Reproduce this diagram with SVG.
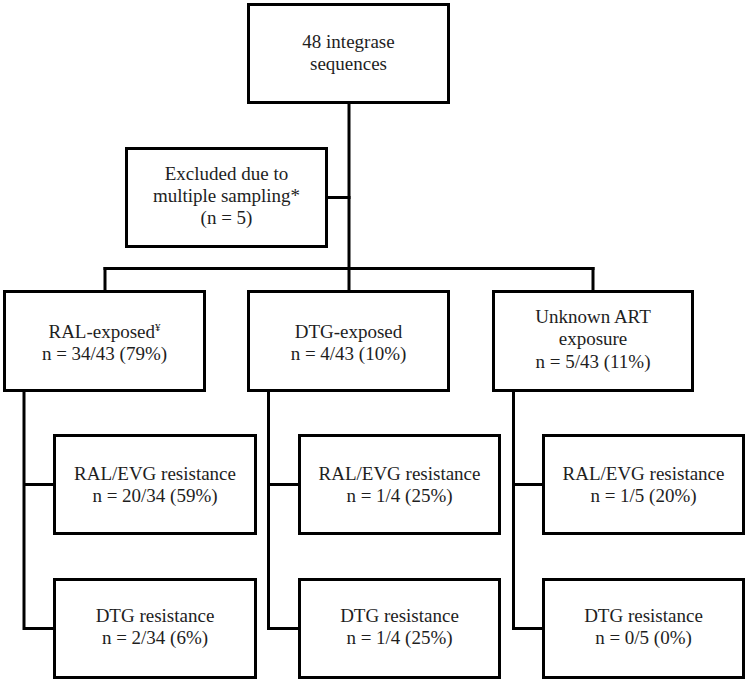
<svg xmlns="http://www.w3.org/2000/svg" width="748" height="681" viewBox="0 0 748 681">
<style>
.box{fill:#fff;stroke:#000;stroke-width:3}
.con{fill:none;stroke:#000;stroke-width:3;stroke-linecap:square}
text{font-family:"Liberation Serif","Times New Roman",serif;font-size:19px;fill:#1e1e1e;text-anchor:middle}
.sup{font-size:11px}
</style>
<rect width="748" height="681" fill="#fff"/>
<g id="connectors">
<path class="con" d="M349,104V290"/>
<path class="con" d="M328,197.5H349"/>
<path class="con" d="M105,268.5H593"/>
<path class="con" d="M105,268.5V290M593,268.5V290"/>
<path class="con" d="M24,392V628.5M24,484.5H53M24,628.5H53"/>
<path class="con" d="M268.5,392V628.5M268.5,484.5H298M268.5,628.5H298"/>
<path class="con" d="M513.5,392V628.5M513.5,484.5H542M513.5,628.5H542"/>
</g>
<g id="n-total">
<rect class="box" x="248.5" y="4.5" width="200" height="98"/>
<text x="348.5" y="48">48 integrase</text>
<text x="348.5" y="70">sequences</text>
</g>
<g id="n-excluded">
<rect class="box" x="126.5" y="148.5" width="200" height="98"/>
<text x="226.5" y="180">Excluded due to</text>
<text x="226.5" y="202">multiple sampling*</text>
<text x="226.5" y="224">(n = 5)</text>
</g>
<g id="n-ral">
<rect class="box" x="4.5" y="291.5" width="200" height="99"/>
<text x="104.5" y="338">RAL-exposed<tspan class="sup" dy="-7">¥</tspan></text>
<text x="104.5" y="360">n = 34/43 (79%)</text>
</g>
<g id="n-dtg">
<rect class="box" x="248.5" y="291.5" width="200" height="99"/>
<text x="348.5" y="338">DTG-exposed</text>
<text x="348.5" y="360">n = 4/43 (10%)</text>
</g>
<g id="n-unknown">
<rect class="box" x="493.5" y="291.5" width="199" height="99"/>
<text x="593" y="323">Unknown ART</text>
<text x="593" y="345">exposure</text>
<text x="593" y="368">n = 5/43 (11%)</text>
</g>
<g id="n-ral-evg1">
<rect class="box" x="54.5" y="435.5" width="201" height="98"/>
<text x="155" y="480">RAL/EVG resistance</text>
<text x="155" y="502">n = 20/34 (59%)</text>
</g>
<g id="n-ral-dtg1">
<rect class="box" x="54.5" y="579.5" width="201" height="98"/>
<text x="155" y="622">DTG resistance</text>
<text x="155" y="644">n = 2/34 (6%)</text>
</g>
<g id="n-ral-evg2">
<rect class="box" x="299.5" y="435.5" width="200" height="98"/>
<text x="399.5" y="480">RAL/EVG resistance</text>
<text x="399.5" y="502">n = 1/4 (25%)</text>
</g>
<g id="n-ral-dtg2">
<rect class="box" x="299.5" y="579.5" width="200" height="98"/>
<text x="399.5" y="622">DTG resistance</text>
<text x="399.5" y="644">n = 1/4 (25%)</text>
</g>
<g id="n-ral-evg3">
<rect class="box" x="543.5" y="435.5" width="200" height="98"/>
<text x="643.5" y="480">RAL/EVG resistance</text>
<text x="643.5" y="502">n = 1/5 (20%)</text>
</g>
<g id="n-ral-dtg3">
<rect class="box" x="543.5" y="579.5" width="200" height="98"/>
<text x="643.5" y="622">DTG resistance</text>
<text x="643.5" y="644">n = 0/5 (0%)</text>
</g>
</svg>
